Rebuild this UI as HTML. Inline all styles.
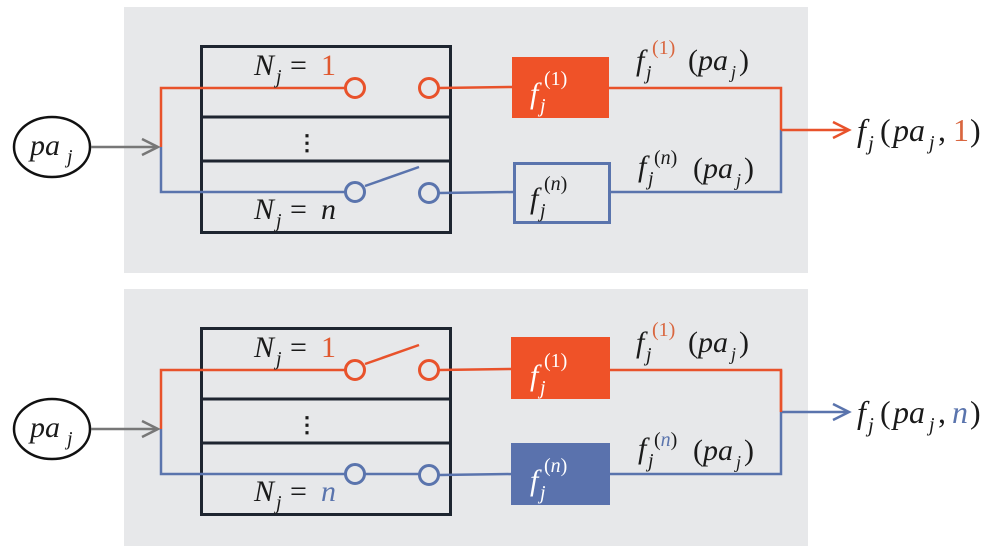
<!DOCTYPE html>
<html><head><meta charset="utf-8"><style>
html,body{margin:0;padding:0;background:#fff;}
svg{display:block}
text{font-family:"Liberation Serif",serif;font-style:italic;fill:#1a1a1a}
.up{font-style:normal}
</style></head><body>
<svg width="994" height="546" viewBox="0 0 994 546" xmlns="http://www.w3.org/2000/svg">
<defs>
<g id="common">
  <rect x="124" y="7" width="684" height="266" fill="#e7e8ea"/>
  <rect x="201.5" y="46.5" width="249" height="186" fill="none" stroke="#1e2530" stroke-width="3"/>
  <line x1="201" y1="117" x2="450" y2="117" stroke="#1e2530" stroke-width="3"/>
  <line x1="201" y1="161" x2="450" y2="161" stroke="#1e2530" stroke-width="3"/>
  <text x="296" y="150" class="up" font-size="22" font-weight="bold">⋮</text>
  <ellipse cx="52" cy="147" rx="38" ry="30" fill="#fff" stroke="#111" stroke-width="2.5"/>
  <text x="30" y="155" font-size="30">pa</text>
  <text x="67" y="163" font-size="20">j</text>
  <line x1="91" y1="147" x2="158" y2="147" stroke="#777" stroke-width="2.5"/>
  <polyline points="142,139 158,147 142,155" fill="none" stroke="#777" stroke-width="2.5"/>
  <polyline points="200,88 161,88 161,147" fill="none" stroke="#e8522b" stroke-width="2.5"/>
  <polyline points="161,147 161,192 200,192" fill="none" stroke="#5a74ad" stroke-width="2.5"/>
  <line x1="200" y1="88" x2="345" y2="88" stroke="#e8522b" stroke-width="2.5"/>
  <line x1="200" y1="192" x2="345" y2="192" stroke="#5a74ad" stroke-width="2.5"/>
  <line x1="439" y1="88" x2="512" y2="87" stroke="#e8522b" stroke-width="2.5"/>
  <line x1="439" y1="193" x2="513" y2="192" stroke="#5a74ad" stroke-width="2.5"/>
  <circle cx="355" cy="88" r="9.5" fill="none" stroke="#e8522b" stroke-width="3"/>
  <circle cx="429" cy="88" r="9.5" fill="none" stroke="#e8522b" stroke-width="3"/>
  <circle cx="355" cy="192" r="9.5" fill="none" stroke="#5a74ad" stroke-width="3"/>
  <circle cx="429" cy="193" r="9.5" fill="none" stroke="#5a74ad" stroke-width="3"/>
  <polyline points="609,88 781,88 781,130" fill="none" stroke="#e8522b" stroke-width="2.5"/>
  <polyline points="609,192 781,192 781,130" fill="none" stroke="#5a74ad" stroke-width="2.5"/>
  <!-- N_j = -->
  <text x="254" y="75" font-size="30">N</text><text x="276" y="83" font-size="20">j</text>
  <text x="290" y="75" class="up" font-size="30">=</text>
  <text x="254" y="219" font-size="30">N</text><text x="276" y="227" font-size="20">j</text>
  <text x="290" y="219" class="up" font-size="30">=</text>
  <!-- labels -->
  <text x="636" y="70" font-size="30">f</text><text x="646" y="79" font-size="20">j</text>
  <text x="688" y="70" class="up" font-size="30">(</text><text x="698" y="70" font-size="30">pa</text><text x="731" y="78" font-size="18">j</text><text x="739" y="70" class="up" font-size="30">)</text>
  <text x="638" y="176" font-size="30">f</text><text x="648" y="185" font-size="20">j</text>
  <text x="693" y="178" class="up" font-size="30">(</text><text x="703" y="178" font-size="30">pa</text><text x="736" y="186" font-size="18">j</text><text x="744" y="178" class="up" font-size="30">)</text>
  <!-- output -->
  <text x="857" y="141" font-size="32">f</text><text x="868" y="150" font-size="21">j</text>
  <text x="880" y="141" class="up" font-size="32">(</text><text x="893" y="141" font-size="32">pa</text><text x="929" y="149" font-size="20">j</text><text x="938" y="141" class="up" font-size="32">,</text>
  <text x="970" y="141" class="up" font-size="32">)</text>
  <!-- box labels -->
  <text x="530" y="103" font-size="30" id="bx">f</text>
</g>
</defs>

<!-- top panel -->
<use href="#common"/>
<line x1="365" y1="186" x2="419" y2="167" stroke="#5a74ad" stroke-width="2.5"/>
<rect x="512" y="57" width="97" height="61" fill="#ef5228"/>
<rect x="514.5" y="163.5" width="95" height="59" fill="none" stroke="#5a74ad" stroke-width="3"/>
<text x="321" y="75" class="up" font-size="30" style="fill:#e0582f">1</text>
<text x="321" y="219" font-size="30">n</text>
<g style="fill:#fff"><text x="530" y="103" font-size="30" style="fill:#fff">f</text><text x="540" y="112" font-size="20" style="fill:#fff">j</text><text x="544" y="85" class="up" font-size="20" style="fill:#fff">(1)</text></g>
<text x="530" y="208" font-size="30">f</text><text x="540" y="217" font-size="20">j</text><text x="544" y="190" class="up" font-size="20">(<tspan font-style="italic">n</tspan>)</text>
<text x="652" y="54" class="up" font-size="20" style="fill:#d9663f">(1)</text>
<text x="654" y="164" class="up" font-size="20">(<tspan font-style="italic">n</tspan>)</text>
<line x1="781" y1="130" x2="848" y2="130" stroke="#e8522b" stroke-width="2.5"/>
<polyline points="833,122 849,130 833,138" fill="none" stroke="#e8522b" stroke-width="2.5"/>
<text x="953" y="141" class="up" font-size="32" style="fill:#d9663f">1</text>

<!-- bottom panel -->
<g transform="translate(0,282)">
<use href="#common"/>
<line x1="365" y1="82" x2="419" y2="63" stroke="#e8522b" stroke-width="2.5"/>
<line x1="365" y1="192" x2="419" y2="192" stroke="#5a74ad" stroke-width="2.5"/>
<rect x="511" y="55" width="99" height="62" fill="#ef5228"/>
<rect x="511" y="161" width="99" height="62" fill="#5a72ad"/>
<text x="321" y="75" class="up" font-size="30" style="fill:#e0582f">1</text>
<text x="321" y="219" font-size="30" style="fill:#5a74ad">n</text>
<text x="530" y="103" font-size="30" style="fill:#fff">f</text><text x="540" y="112" font-size="20" style="fill:#fff">j</text><text x="544" y="85" class="up" font-size="20" style="fill:#fff">(1)</text>
<text x="530" y="208" font-size="30" style="fill:#fff">f</text><text x="540" y="217" font-size="20" style="fill:#fff">j</text><text x="544" y="190" class="up" font-size="20" style="fill:#fff">(<tspan font-style="italic" style="fill:#fff">n</tspan>)</text>
<text x="652" y="54" class="up" font-size="20" style="fill:#d9663f">(1)</text>
<text x="654" y="164" class="up" font-size="20">(<tspan font-style="italic" style="fill:#5a74ad">n</tspan>)</text>
<line x1="781" y1="130" x2="848" y2="130" stroke="#5a74ad" stroke-width="2.5"/>
<line x1="781" y1="88" x2="781" y2="130" stroke="#e8522b" stroke-width="2.5"/>
<polyline points="833,122 849,130 833,138" fill="none" stroke="#5a74ad" stroke-width="2.5"/>
<text x="952" y="141" font-size="32" style="fill:#5a74ad">n</text>
</g>
</svg>
</body></html>
